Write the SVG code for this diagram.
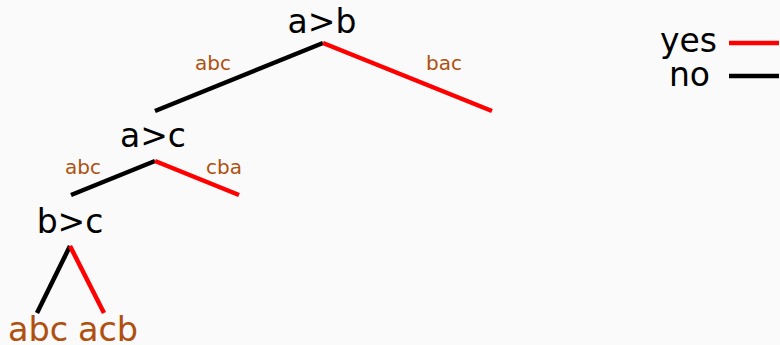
<svg xmlns="http://www.w3.org/2000/svg" width="780" height="345" viewBox="0 0 780 345">
<style>
text{font-family:"DejaVu Sans",sans-serif;}
.n{font-size:33px;fill:#000;text-anchor:middle}
.l{font-size:20px;fill:#b0500f;text-anchor:middle}
.leaf{font-size:33.5px;fill:#b0500f;text-anchor:middle}
.no{stroke:#000;stroke-width:4.5;fill:none}
.yes{stroke:#ff0000;stroke-width:4.5;fill:none}
.lg{font-size:33px;fill:#000;text-anchor:end}
</style>
<rect width="780" height="345" fill="#fafafa"/>
<g id="connectors">
<line class="no" x1="323" y1="43" x2="155" y2="111"/>
<line class="yes" x1="323" y1="43" x2="492" y2="111"/>
<line class="no" x1="155" y1="161" x2="71" y2="195"/>
<line class="yes" x1="155" y1="161" x2="239" y2="195"/>
<line class="no" x1="70" y1="246" x2="37" y2="313"/>
<line class="yes" x1="70" y1="246" x2="104" y2="313"/>
<text class="l" x="213" y="70">abc</text>
<text class="l" x="444" y="70">bac</text>
<text class="l" x="83" y="174">abc</text>
<text class="l" x="224" y="174">cba</text>
</g>
<g id="node-ab"><text class="n" x="322" y="33">a&gt;b</text></g>
<g id="node-ac"><text class="n" x="153" y="147">a&gt;c</text></g>
<g id="node-bc"><text class="n" x="70" y="233">b&gt;c</text></g>
<g id="leaf-abc"><text class="leaf" x="38" y="341">abc</text></g>
<g id="leaf-acb"><text class="leaf" x="108" y="341">acb</text></g>
<g id="legend">
<text class="lg" x="717" y="52">yes</text>
<line class="yes" x1="729" y1="43" x2="779" y2="43"/>
<text class="lg" x="710" y="86">no</text>
<line class="no" x1="729" y1="76" x2="779" y2="76"/>
</g>
</svg>
